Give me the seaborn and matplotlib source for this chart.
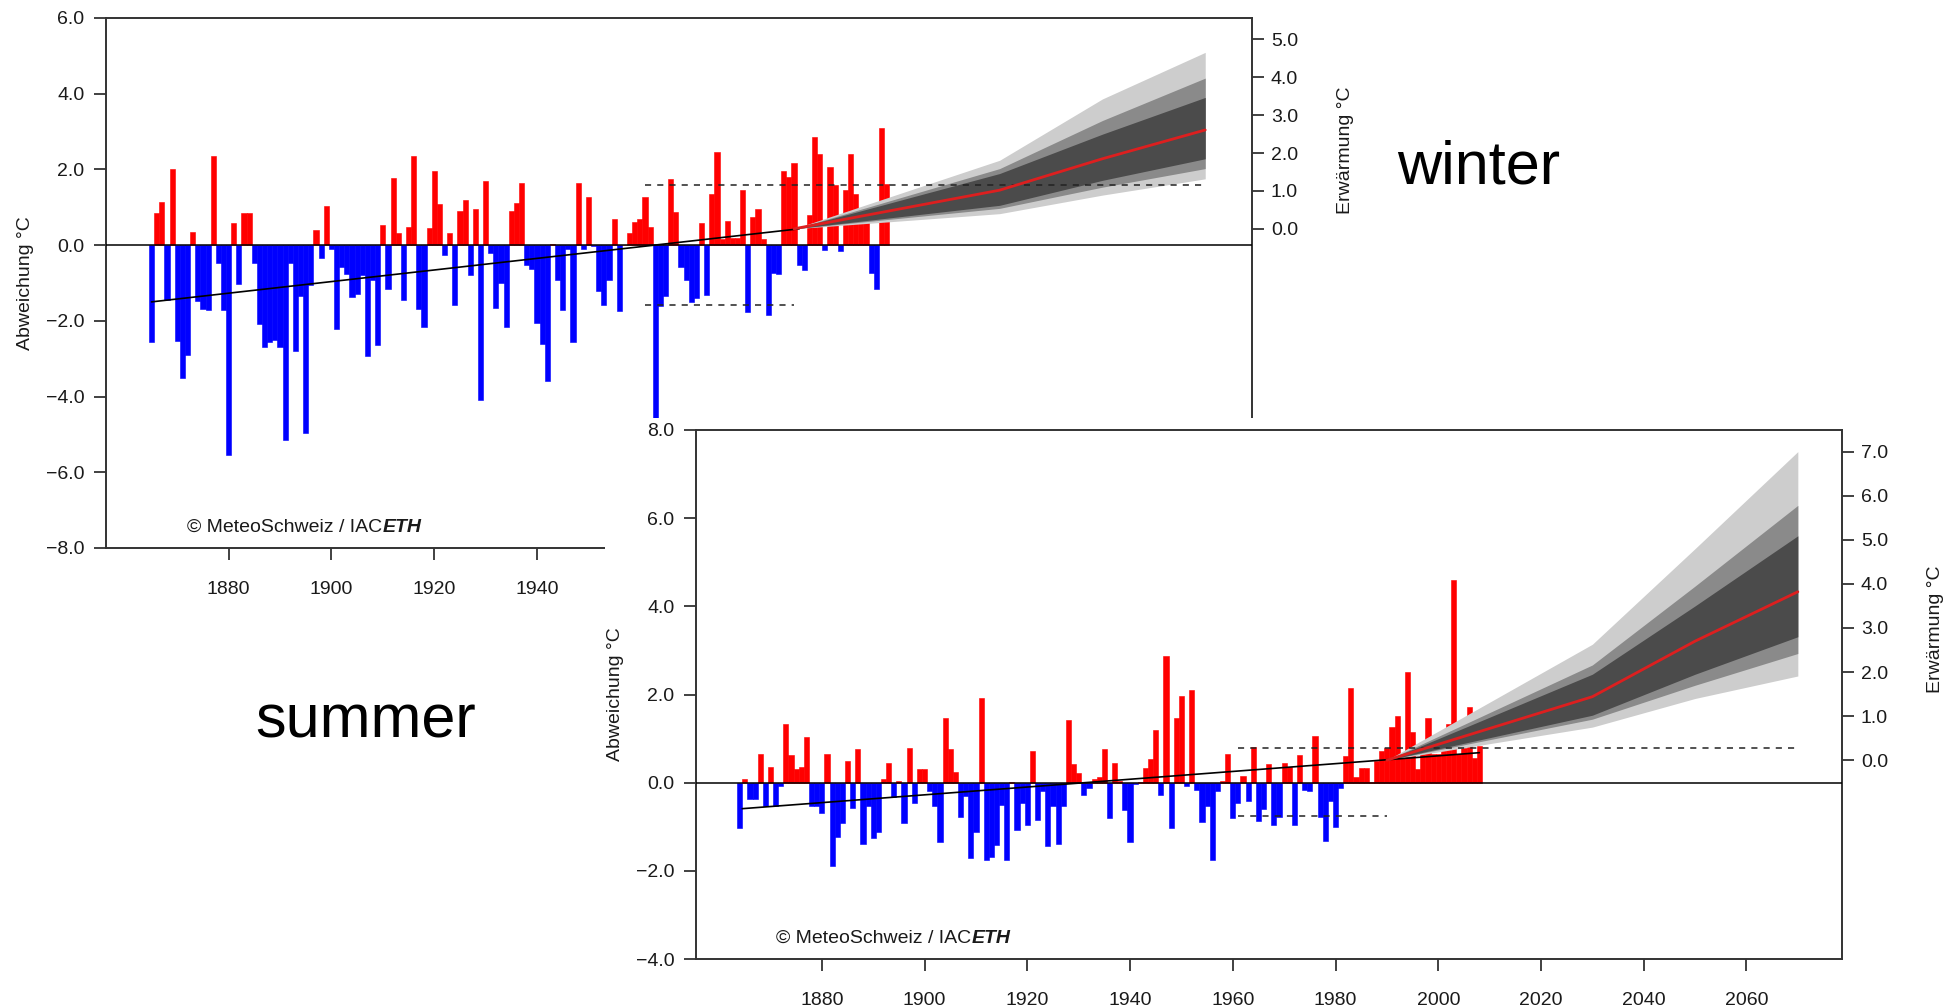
import numpy as np
import matplotlib
matplotlib.use("Agg")
import matplotlib.pyplot as plt
import seaborn as sns
from matplotlib.patches import Rectangle

# ---------------- data ----------------
winter_start = 1865
winter_anom = [
    -2.55, 0.84, 1.15, -1.44, 2.0, -2.53, -3.5, -2.9, 0.35, -1.48,
    -1.7, -1.72, 2.35, -0.48, -1.72, -5.55, 0.59, -1.03, 0.85, 0.85,
    -0.48, -2.09, -2.7, -2.55, -2.51, -2.7, -5.14, -0.48, -2.79, -1.34,
    -4.95, -1.06, 0.4, -0.35, 1.04, -0.11, -2.22, -0.59, -0.77, -1.37,
    -1.3, -0.79, -2.93, -0.91, -2.64, 0.53, -1.15, 1.76,
    0.33, -1.45, 0.47, 2.36, -1.7, -2.16, 0.44, 1.96, 1.08, -0.26,
    0.33, -1.59, 0.91, 1.19, -0.79, 0.94, -4.08, 1.69, -0.2, -1.65,
    -0.99, -2.16, 0.91, 1.12, 1.63, -0.53, -0.64, -2.05, -2.6, -3.6,
    0.02, -0.93, -1.72, -0.11, -2.55, 1.63, -0.11, 1.26, -0.02, -1.21,
    -1.57, -0.93, 0.7, -1.74, 0.0, 0.31, 0.6, 0.7,
    1.26, 0.47, -4.75, -1.6, -1.35, 1.74, 0.87, -0.58, -0.91, -1.5,
    -1.41, 0.59, -1.32, 1.35, 2.47, 0.15, 0.64, 0.2, 0.18, 1.46,
    -1.76, 0.75, 0.94, 0.15, -1.85, -0.75, -0.77, 1.96, 1.8, 2.17,
    -0.53, -0.66, 0.79, 2.85, 2.41, -0.13, 2.05, 1.59, -0.15, 1.45,
    2.41, 1.35, 0.9, 0.9, -0.75, -1.17, 3.1, 1.61,
]

summer_start = 1864
summer_anom = [
    -1.03, 0.08, -0.36, -0.38, 0.65, -0.53, 0.36, -0.53, -0.07, 1.34,
    0.63, 0.31, 0.36, 1.04, -0.54, -0.54, -0.69, 0.65, -1.88, -1.24,
    -0.92, 0.49, -0.57, 0.76, -1.4, -0.52, -1.26, -1.11, 0.08, 0.44,
    -0.32, 0.04, -0.92, 0.79, -0.47, 0.31, 0.31, -0.2, -0.54, -1.34,
    1.46, 0.76, 0.25, -0.77, -0.3, -1.7, -1.11, 1.91, -1.75, -1.68,
    -1.41, -0.5, -1.75, 0.02, -1.07, -0.47, -0.96, 0.72, -0.85, -0.2,
    -1.43, -0.54, -1.4, -0.54, 1.42, 0.42, 0.23, -0.28, -0.11, 0.08,
    0.12, 0.76, -0.81, 0.44, 0.03, -0.62, -1.35, -0.04, 0.02, 0.34,
    0.54, 1.19, -0.28, 2.88, -1.03, 1.46, 1.97, -0.08, 2.1, -0.17,
    -0.9, -0.54, -1.75, -0.2, 0.03, 0.65, -0.81, -0.45, 0.16, -0.42,
    0.82, -0.87, -0.6, 0.42, -0.96, -0.79, 0.44, 0.36, -0.96, 0.63,
    -0.17, -0.2, 1.06, -0.77, -1.32, -0.42, -1.0, -0.11, 0.61, 2.14,
    0.12, 0.34, 0.34, 0.02, 0.5, 0.72, 0.78, 1.27, 1.52, 0.55,
    2.5, 1.16, 0.32, 0.66, 1.46, 0.66, 0.66, 0.78, 1.34, 4.59,
    0.66, 0.78, 1.72, 0.57, 0.84,
]

# linear trends (left axis) and reference level of the right axis
winter_trend_x = [1865, 1991]
winter_trend_y = [-1.50, 0.43]
winter_ref = 0.43
summer_trend_x = [1864.5, 1990]
summer_trend_y = [-0.59, 0.52]
summer_recent_x = [1990, 2008]
summer_recent_y = [0.52, 0.68]
summer_ref = 0.51

# variability lines (left axis)
winter_dash_hi, winter_dash_lo = 1.6, -1.57
summer_dash_hi, summer_dash_lo = 0.78, -0.76
dash_hi_years = [1961, 2070]
dash_lo_years = [1961, 1990]

# scenario bands (warming, right axis)
proj_years = [1990, 2030, 2050, 2070]
winter_light_lo = [0, 0.40, 0.89, 1.32]
winter_mid_lo = [0, 0.54, 1.10, 1.59]
winter_dark_lo = [0, 0.62, 1.28, 1.85]
winter_median = [0, 1.02, 1.85, 2.61]
winter_dark_hi = [0, 1.46, 2.50, 3.47]
winter_mid_hi = [0, 1.59, 2.86, 3.98]
winter_light_hi = [0, 1.81, 3.43, 4.66]

summer_light_lo = [0, 0.75, 1.40, 1.91]
summer_mid_lo = [0, 0.93, 1.70, 2.42]
summer_dark_lo = [0, 1.02, 1.95, 2.80]
summer_median = [0, 1.44, 2.70, 3.82]
summer_dark_hi = [0, 1.95, 3.50, 5.09]
summer_mid_hi = [0, 2.16, 3.95, 5.78]
summer_light_hi = [0, 2.63, 4.80, 7.00]

x_ticks = [1880, 1900, 1920, 1940, 1960, 1980, 2000, 2020, 2040, 2060]
winter_yticks = [-8, -6, -4, -2, 0, 2, 4, 6]
summer_yticks = [-4, -2, 0, 2, 4, 6, 8]
winter_rticks = [0, 1, 2, 3, 4, 5]
summer_rticks = [0, 1, 2, 3, 4, 5, 6, 7]

# ---------------- style ----------------
sns.set_theme(style="ticks")
plt.rcParams['font.family'] = ['Liberation Sans', 'DejaVu Sans']

W, H = 1957, 1006
fig = plt.figure(figsize=(W / 100, H / 100), dpi=100)
fig.patch.set_facecolor("white")


def fx(px):
    return px / W


def fy(py):
    return 1 - py / H


SPINE = "#333333"
TXT = "#1a1a1a"
FS = 14


def fmt(v):
    s = f"{abs(v):.1f}"
    return ("\u2212" + s) if v < 0 else s


def credit(ax, x, y):
    t = ax.text(x, y, "\u00a9 MeteoSchweiz / IAC", transform=ax.transAxes,
                fontsize=FS, color=TXT, ha="left", va="baseline", zorder=6)
    fig.canvas.draw()
    bb = t.get_window_extent()
    x2 = ax.transAxes.inverted().transform((bb.x1, bb.y0))[0]
    ax.text(x2, y, "ETH", transform=ax.transAxes, fontsize=FS, color=TXT,
            fontweight="bold", fontstyle="italic", ha="left", va="baseline", zorder=6)


def panel(rect, z, start, anom, xlim, ylim, yticks, ref, rticks,
          tx, ty, dhi, dlo, bands, median, lab_r_y, extra=None):
    ax = fig.add_axes(rect)
    ax.set_zorder(z)
    ax.set_facecolor("white")
    years = np.arange(start, start + len(anom))
    vals = np.array(anom)
    cols = np.where(vals >= 0, "#ff0000", "#0000ff")
    ax.bar(years, vals, width=1.0, color=cols, edgecolor=cols, linewidth=0.4, zorder=2)

    # scenario bands
    py = np.array(proj_years)
    lo_l, lo_m, lo_d, hi_d, hi_m, hi_l = [np.array(b) + ref for b in bands]
    ax.fill_between(py, lo_l, hi_l, color="#cdcdcd", lw=0, zorder=3)
    ax.fill_between(py, lo_m, hi_m, color="#8a8a8a", lw=0, zorder=3.1)
    ax.fill_between(py, lo_d, hi_d, color="#4b4b4b", lw=0, zorder=3.2)

    ax.axhline(0, color="black", lw=1.1, zorder=4)
    sns.lineplot(x=tx, y=ty, ax=ax, color="black", lw=1.2, zorder=5)
    if extra is not None:
        sns.lineplot(x=extra[0], y=extra[1], ax=ax, color="black", lw=1.2, zorder=5)
    ax.plot(dash_hi_years, [dhi, dhi], color="#222222", lw=1.1, dashes=(4, 4), zorder=5)
    ax.plot(dash_lo_years, [dlo, dlo], color="#222222", lw=1.1, dashes=(4, 4), zorder=5)
    sns.lineplot(x=proj_years, y=np.array(median) + ref, ax=ax, color="#dd1f1f", lw=2.0, zorder=6)

    ax.set_xlim(*xlim)
    ax.set_ylim(*ylim)
    ax.set_xticks(x_ticks)
    ax.set_xticklabels([str(t) for t in x_ticks])
    ax.set_yticks(yticks)
    ax.set_yticklabels([fmt(v) for v in yticks])
    ax.tick_params(axis="x", direction="out", length=8.5, width=1.3, pad=15,
                   labelsize=FS, colors=SPINE, labelcolor=TXT)
    ax.tick_params(axis="y", direction="out", length=8.5, width=1.3, pad=7,
                   labelsize=FS, colors=SPINE, labelcolor=TXT)
    for s in ax.spines.values():
        s.set_visible(True)
        s.set_color(SPINE)
        s.set_linewidth(1.4)
    ax.set_xlabel("")
    ax.set_ylabel("Abweichung \u00b0C", fontsize=FS, color=TXT)
    ax.yaxis.set_label_coords(-0.063, 0.5)

    axr = ax.twinx()
    axr.set_zorder(z)
    axr.set_ylim(ylim[0] - ref, ylim[1] - ref)
    axr.set_yticks(rticks)
    axr.set_yticklabels([fmt(v) for v in rticks])
    axr.tick_params(axis="y", direction="out", length=8.5, width=1.3, pad=5,
                    labelsize=FS, colors=SPINE, labelcolor=TXT)
    for s in axr.spines.values():
        s.set_visible(False)
    axr.set_ylabel("Erw\u00e4rmung \u00b0C", fontsize=FS, color=TXT)
    axr.yaxis.set_label_coords(1.074, lab_r_y)
    return ax


# winter panel
ax_w = panel([fx(105.8), fy(548), fx(1252) - fx(105.8), fy(17.9) - fy(548)], 1,
             winter_start, winter_anom, (1856.1, 2079.1), (-8, 6), winter_yticks,
             winter_ref, winter_rticks, winter_trend_x, winter_trend_y,
             winter_dash_hi, winter_dash_lo,
             [winter_light_lo, winter_mid_lo, winter_dark_lo,
              winter_dark_hi, winter_mid_hi, winter_light_hi],
             winter_median, 0.751)

# white sheet of the overlaid summer chart
fig.add_artist(Rectangle((fx(605), 0), 1 - fx(605), fy(418), transform=fig.transFigure,
                         facecolor="white", edgecolor="none", zorder=2))

# summer panel
ax_s = panel([fx(696), fy(959), fx(1842) - fx(696), fy(430) - fy(959)], 3,
             summer_start, summer_anom, (1855.5, 2078.6), (-4, 8), summer_yticks,
             summer_ref, summer_rticks, summer_trend_x, summer_trend_y,
             summer_dash_hi, summer_dash_lo,
             [summer_light_lo, summer_mid_lo, summer_dark_lo,
              summer_dark_hi, summer_mid_hi, summer_light_hi],
             summer_median, 0.623, extra=(summer_recent_x, summer_recent_y))

credit(ax_w, 0.071, 0.030)
credit(ax_s, 0.070, 0.030)

fig.text(fx(1479), fy(168), "winter", fontsize=44, color="black",
         ha="center", va="center", zorder=10)
fig.text(fx(366), fy(722), "summer", fontsize=44, color="black",
         ha="center", va="center", zorder=10)

fig.savefig("out.png", dpi=100, facecolor="white")
